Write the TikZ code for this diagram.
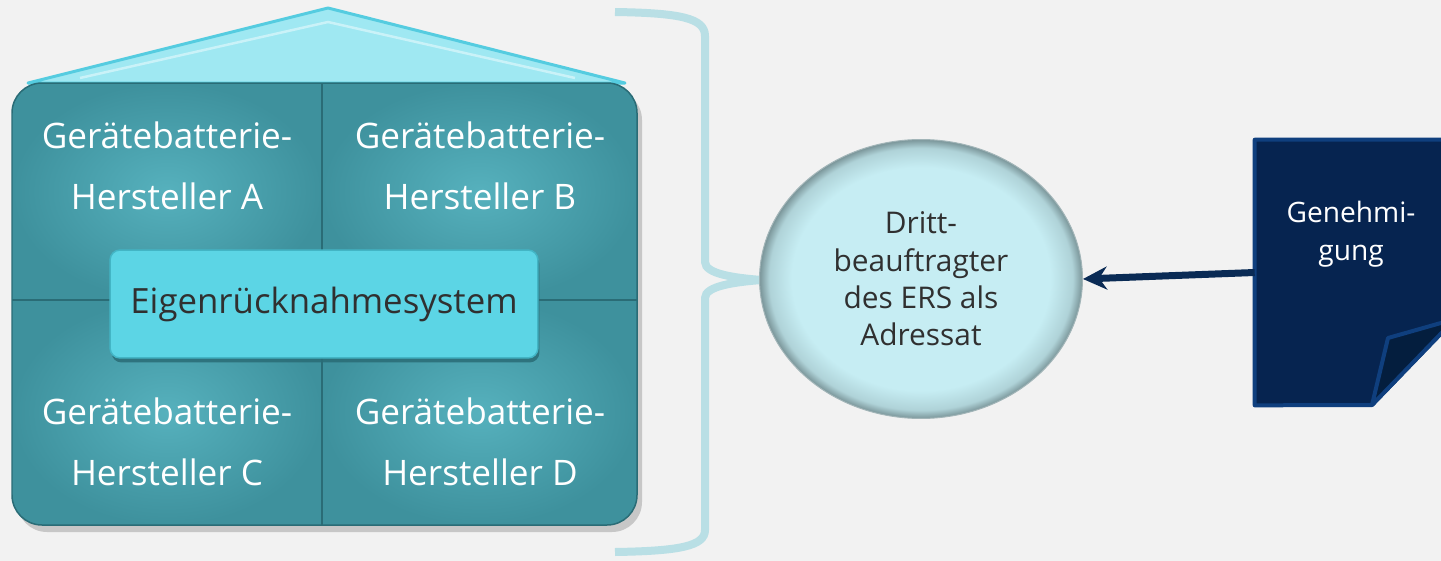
\documentclass[tikz,border=0pt]{standalone}
\usepackage{fontspec}
\setmainfont{Open Sans}
\usetikzlibrary{arrows.meta,positioning,shapes.geometric,shadows}
\definecolor{bggray}{HTML}{F2F2F2}
\definecolor{roofcyan}{HTML}{9FE8F2}
\definecolor{roofedge}{HTML}{55CCE0}
\definecolor{tealmid}{HTML}{56B1BD}
\definecolor{tealdark}{HTML}{3E919D}
\definecolor{tealedge}{HTML}{2A6C76}
\definecolor{boxcyan}{HTML}{5CD5E5}
\definecolor{boxedge}{HTML}{43B5C5}
\definecolor{textdark}{HTML}{303030}
\definecolor{bracecol}{HTML}{B9DFE5}
\definecolor{ballfill}{HTML}{C6EDF3}
\definecolor{ballrim}{HTML}{7A9599}
\definecolor{navy}{HTML}{0A2B55}
\definecolor{docfill}{HTML}{062450}
\definecolor{docedge}{HTML}{0F3F7E}
\definecolor{docflap}{HTML}{041E3E}
\pgfdeclareradialshading{ballshade}{\pgfpoint{0bp}{0bp}}{color(0bp)=(ballfill); color(20bp)=(ballfill); color(23.5bp)=(ballfill!70!ballrim); color(25bp)=(ballrim); color(50bp)=(ballrim)}

\begin{document}
\begin{tikzpicture}[x=0.02cm, y=-0.02cm,
  quadfill/.style={shading=radial, inner color=tealmid, outer color=tealdark},
  quadtext/.style={text=white, align=center, font=\fontsize{20}{34.7}\selectfont},
  erssys/.style={rectangle, rounded corners=0.2cm, fill=boxcyan, draw=boxedge,
    line width=0.03cm, minimum width=8.56cm, minimum height=2.16cm,
    text=textdark, font=\fontsize{19.8}{24}\selectfont,
    drop shadow={shadow xshift=0.03cm, shadow yshift=-0.09cm, fill=tealedge, opacity=.85}},
  adressat/.style={ellipse, shade, shading=ballshade, draw=ballrim!70, line width=0.02cm,
    minimum width=6.46cm, minimum height=5.58cm, align=center, text=textdark,
    font=\fontsize{17}{21.3}\selectfont},
  doctext/.style={text=white, align=center, font=\fontsize{16}{21.6}\selectfont}]
  \clip (0,0) rectangle (1441,561);
  \fill[bggray] (0,0) rectangle (1441,561);

  % Dach
  \filldraw[fill=roofcyan, draw=roofedge, line width=0.06cm, line join=round]
    (28,83) -- (328,8) -- (625,83) -- cycle;
  \draw[roofcyan!55!white, line width=0.05cm] (80,78) -- (328,22) -- (575,78);

  % Haus mit vier Herstellern
  \fill[black!22, rounded corners=0.6cm] (17,90) rectangle (642,532);
  \begin{scope}
    \clip[rounded corners=0.6cm] (12,83) rectangle (637,525);
    \shade[quadfill] (12,83) rectangle (322,300);
    \shade[quadfill] (322,83) rectangle (637,300);
    \shade[quadfill] (12,300) rectangle (322,525);
    \shade[quadfill] (322,300) rectangle (637,525);
  \end{scope}
  \draw[tealedge, line width=0.05cm] (322,83) -- (322,525) (12,300) -- (637,300);
  \draw[tealedge, line width=0.03cm, rounded corners=0.6cm] (12,83) rectangle (637,525);

  \node[quadtext] (herstA) at (167,166) {Gerätebatterie-\\Hersteller A};
  \node[quadtext] (herstB) at (480,166) {Gerätebatterie-\\Hersteller B};
  \node[quadtext] (herstC) at (167,442) {Gerätebatterie-\\Hersteller C};
  \node[quadtext] (herstD) at (480,442) {Gerätebatterie-\\Hersteller D};
  \node[erssys] (ers) at (324,304) {Eigenrücknahmesystem};

  % Klammer
  \coordinate (tip) at (762,280);
  \draw[bracecol, line width=0.16cm]
    (615,12) .. controls (680,13) and (705,18) .. (705,36) -- (705,262)
    .. controls (705,274) and (735,278) .. (tip)
    .. controls (735,282) and (705,286) .. (705,298) -- (705,530)
    .. controls (705,546) and (680,551) .. (615,552);

  % Adressat
  \node[adressat] (addr) at (921,279) {Dritt-\\beauftragter\\des ERS als\\Adressat};

  % Genehmigung
  \node[minimum width=4cm, minimum height=5.3cm, inner sep=0pt] (doc) at (1355,272.5) {};
  \filldraw[fill=docfill, draw=docedge, line width=0.08cm, line join=round]
    (doc.north west) -- (doc.north east) -- (1455,319) -- (1372,405) -- (doc.south west) -- cycle;
  \filldraw[fill=docflap, draw=docedge, line width=0.08cm, line join=round]
    (1372,405) -- (1388,338) -- (1455,319) -- cycle;
  \node[doctext] (perm) at (1351,234) {Genehmi-\\gung};

  \draw[navy, line width=0.14cm, -{Stealth[length=0.48cm, width=0.46cm]}] (doc.west) -- (addr.east);
\end{tikzpicture}
\end{document}
